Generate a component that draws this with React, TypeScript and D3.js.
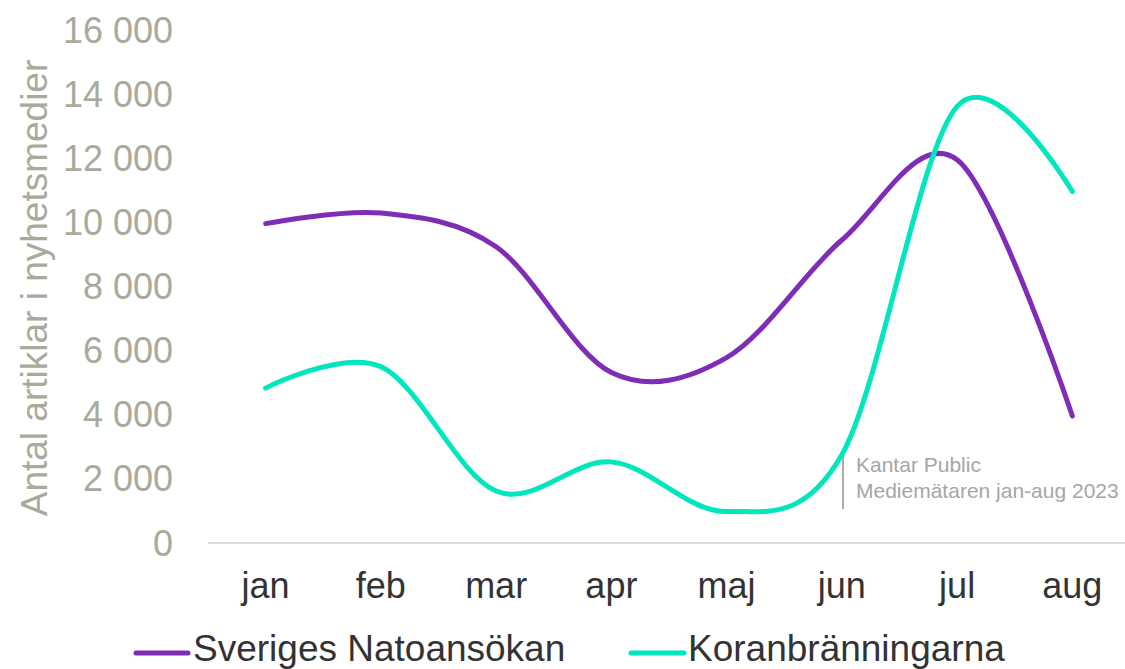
import React from "react";
import * as d3 from "d3";

const months = ["jan", "feb", "mar", "apr", "maj", "jun", "jul", "aug"];
const natoValues = [9960, 10290, 9240, 5320, 5780, 9450, 11950, 3960];
const koranValues = [4830, 5500, 1620, 2530, 980, 2750, 13620, 10960];
const yTicks = [0, 2000, 4000, 6000, 8000, 10000, 12000, 14000, 16000];

const series = [
  { name: "Sveriges Natoansökan", values: natoValues, color: "#7F2DB7" },
  { name: "Koranbränningarna", values: koranValues, color: "#00E6BF" },
];

const W = 1125;
const H = 669;
const FONT = "'Liberation Sans', Arial, sans-serif";

function fmt(v: number) {
  const s = String(v);
  return s.replace(/\B(?=(\d{3})+(?!\d))/g, " ");
}

export default function App() {
  const x = d3.scaleBand<string>().domain(months).range([208, 1130]);
  const xc = (m: string) => (x(m) as number) + x.bandwidth() / 2;
  const y = d3.scaleLinear().domain([0, 16000]).range([543, 30]);
  const line = d3
    .line<number>()
    .x((_, i) => xc(months[i]))
    .y((d) => y(d))
    .curve(d3.curveCardinal.tension(0));

  const legendItems = [
    { x1: 136, x2: 188, tx: 193 },
    { x1: 631, x2: 684, tx: 688 },
  ];

  return (
    <svg
      width={W}
      height={H}
      style={{ position: "absolute", left: 0, top: 0, background: "#fff" }}
      fontFamily={FONT}
    >
      {/* y tick labels */}
      {yTicks.map((t) => (
        <text
          key={t}
          x={173}
          y={y(t)}
          dy="0.35em"
          textAnchor="end"
          fontSize={36}
          fill="#AAAA9B"
        >
          {fmt(t)}
        </text>
      ))}
      {/* y axis title */}
      <text
        transform={`translate(47, 288) rotate(-90)`}
        textAnchor="middle"
        fontSize={37}
        fill="#AAAA9B"
      >
        Antal artiklar i nyhetsmedier
      </text>
      {/* x axis line */}
      <line x1={208} x2={1125} y1={y(0)} y2={y(0)} stroke="#D9D9D9" strokeWidth={2} />
      {/* x labels */}
      {months.map((m) => (
        <text key={m} x={xc(m)} y={598} textAnchor="middle" fontSize={36} fill="#333333">
          {m}
        </text>
      ))}
      {/* annotation */}
      <line x1={843} x2={843} y1={452} y2={509} stroke="#AEAE9F" strokeWidth={2} />
      <text x={856} y={472} fontSize={21} fill="#A6A6A6">
        Kantar Public
      </text>
      <text x={856} y={498} fontSize={21} fill="#A6A6A6">
        Mediemätaren jan-aug 2023
      </text>
      {/* lines */}
      {series.map((s) => (
        <path
          key={s.name}
          d={line(s.values) as string}
          fill="none"
          stroke={s.color}
          strokeWidth={5}
          strokeLinecap="round"
          strokeLinejoin="round"
        />
      ))}
      {/* legend */}
      {series.map((s, i) => (
        <g key={s.name}>
          <line
            x1={legendItems[i].x1}
            x2={legendItems[i].x2}
            y1={653}
            y2={653}
            stroke={s.color}
            strokeWidth={5}
            strokeLinecap="round"
          />
          <text x={legendItems[i].tx} y={661} fontSize={37} fill="#333333">
            {s.name}
          </text>
        </g>
      ))}
    </svg>
  );
}
